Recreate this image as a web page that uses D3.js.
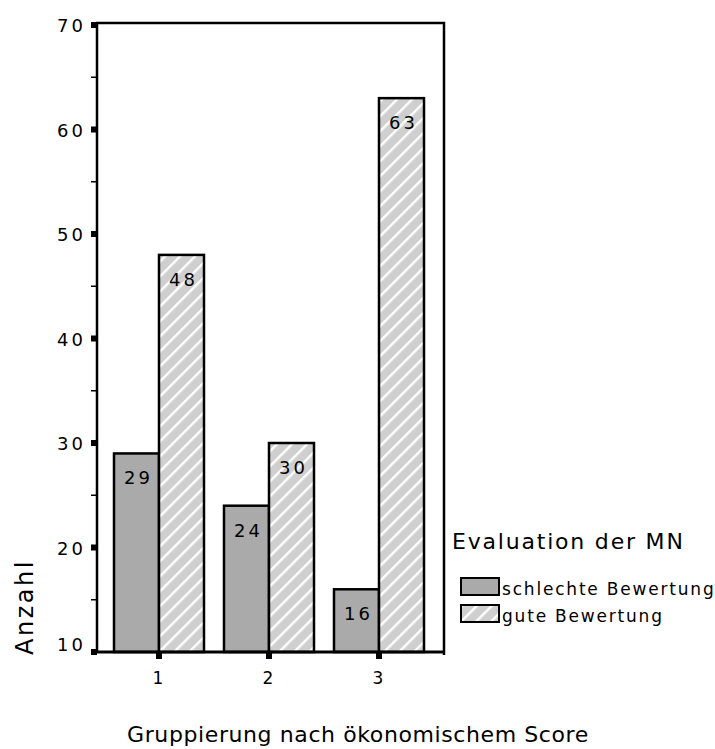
<!doctype html>
<html lang="de">
<head>
<meta charset="utf-8">
<title>Anzahl nach Gruppe</title>
<script src="https://cdn.jsdelivr.net/npm/d3@7"></script>
<style>
  body { margin: 0; background: #fff; }
  text { font-family: "DejaVu Sans", sans-serif; fill: #000; }
</style>
</head>
<body>
<div id="chart"></div>
<script>
  var groups = ["1", "2", "3"];
  var seriesNames = ["schlechte Bewertung", "gute Bewertung"];
  var schlecht = [29, 24, 16];
  var gut = [48, 30, 63];
  var yTicks = [10, 20, 30, 40, 50, 60, 70];

  var svg = d3.select("#chart").append("svg")
      .attr("width", 715)
      .attr("height", 749);

  var defs = svg.append("defs");
  var pat = defs.append("pattern")
      .attr("id", "hatch")
      .attr("patternUnits", "userSpaceOnUse")
      .attr("width", 10.6)
      .attr("height", 10.6)
      .attr("patternTransform", "rotate(45)");
  pat.append("rect").attr("width", 10.6).attr("height", 10.6).attr("fill", "#cfcfcf");
  pat.append("rect").attr("x", 0).attr("width", 2.4).attr("height", 10.6).attr("fill", "#fff");

  var mLeft = 97, mRight = 444, mTop = 23, mBottom = 652;

  var y = d3.scaleLinear().domain([10, 70]).range([mBottom, 25]);
  var x = d3.scaleBand().domain(groups).range([104, 434])
      .paddingInner(20 / 110).paddingOuter(10 / 110);
  var xs = d3.scaleBand().domain([0, 1]).range([0, x.bandwidth()]);

  var fills = ["#aaaaaa", "url(#hatch)"];
  var data = [];
  groups.forEach(function (g, i) {
    data.push({ g: g, s: 0, v: schlecht[i] });
    data.push({ g: g, s: 1, v: gut[i] });
  });

  // frame
  svg.append("path")
      .attr("d", "M" + mLeft + "," + mBottom + "V" + mTop + "H" + mRight + "V" + (mBottom + 3))
      .attr("fill", "none")
      .attr("stroke", "#000")
      .attr("stroke-width", 2.5);

  // bars
  var bars = svg.append("g").selectAll("g.bar")
      .data(data).enter().append("g").attr("class", "bar");

  bars.append("rect")
      .attr("x", function (d) { return x(d.g) + xs(d.s); })
      .attr("y", function (d) { return y(d.v); })
      .attr("width", xs.bandwidth())
      .attr("height", function (d) { return y(10) - y(d.v); })
      .attr("fill", function (d) { return fills[d.s]; })
      .attr("stroke", "#000")
      .attr("stroke-width", 2.5);

  bars.append("text")
      .attr("x", function (d) { return x(d.g) + xs(d.s) + xs.bandwidth() / 2 + 2; })
      .attr("y", function (d) { return y(d.v) + 31; })
      .attr("text-anchor", "middle")
      .attr("font-size", 18)
      .attr("letter-spacing", 3)
      .text(function (d) { return d.v; });

  // baseline
  svg.append("line")
      .attr("x1", 91).attr("x2", mRight)
      .attr("y1", mBottom).attr("y2", mBottom)
      .attr("stroke", "#000").attr("stroke-width", 3);

  // y axis ticks
  var yAxis = svg.append("g");
  yAxis.selectAll("rect.major").data(yTicks).enter().append("rect")
      .attr("x", mLeft - 6).attr("y", function (d) { return y(d) - 3; })
      .attr("width", 6).attr("height", 6).attr("fill", "#000");
  yAxis.selectAll("line.minor").data(d3.range(15, 70, 10)).enter().append("line")
      .attr("x1", mLeft - 6).attr("x2", mLeft)
      .attr("y1", function (d) { return y(d); }).attr("y2", function (d) { return y(d); })
      .attr("stroke", "#000").attr("stroke-width", 1.5);
  yAxis.selectAll("text").data(yTicks).enter().append("text")
      .attr("x", 86).attr("y", function (d) { return Math.min(y(d) + 7, 651); })
      .attr("text-anchor", "end")
      .attr("font-size", 18)
      .attr("letter-spacing", 3)
      .text(function (d) { return d; });

  // x axis ticks
  var xAxis = svg.append("g");
  xAxis.selectAll("rect").data(groups).enter().append("rect")
      .attr("x", function (d) { return x(d) + x.bandwidth() / 2 - 3; })
      .attr("y", mBottom).attr("width", 6).attr("height", 7).attr("fill", "#000");
  xAxis.selectAll("text").data(groups).enter().append("text")
      .attr("x", function (d) { return x(d) + x.bandwidth() / 2 - 1; })
      .attr("y", 684)
      .attr("text-anchor", "middle")
      .attr("font-size", 17)
      .text(function (d) { return d; });

  // axis titles
  svg.append("text")
      .attr("transform", "translate(33,607) rotate(-90)")
      .attr("text-anchor", "middle")
      .attr("font-size", 24)
      .attr("letter-spacing", 2.5)
      .text("Anzahl");

  svg.append("text")
      .attr("x", 358).attr("y", 742)
      .attr("text-anchor", "middle")
      .attr("font-size", 22)
      .attr("letter-spacing", 0.6)
      .text("Gruppierung nach ökonomischem Score");

  // legend
  var lg = svg.append("g");
  lg.append("text")
      .attr("x", 452).attr("y", 549)
      .attr("font-size", 22)
      .attr("letter-spacing", 1.8)
      .text("Evaluation der MN");
  var items = lg.selectAll("g.item").data(seriesNames).enter().append("g")
      .attr("transform", function (d, i) { return "translate(461," + (578 + i * 27) + ")"; });
  items.append("rect")
      .attr("width", 38).attr("height", 17)
      .attr("fill", function (d, i) { return fills[i]; })
      .attr("stroke", "#000").attr("stroke-width", 2);
  items.append("text")
      .attr("x", 41).attr("y", 17)
      .attr("font-size", 17)
      .attr("letter-spacing", 1.8)
      .text(function (d) { return d; });
</script>
</body>
</html>
